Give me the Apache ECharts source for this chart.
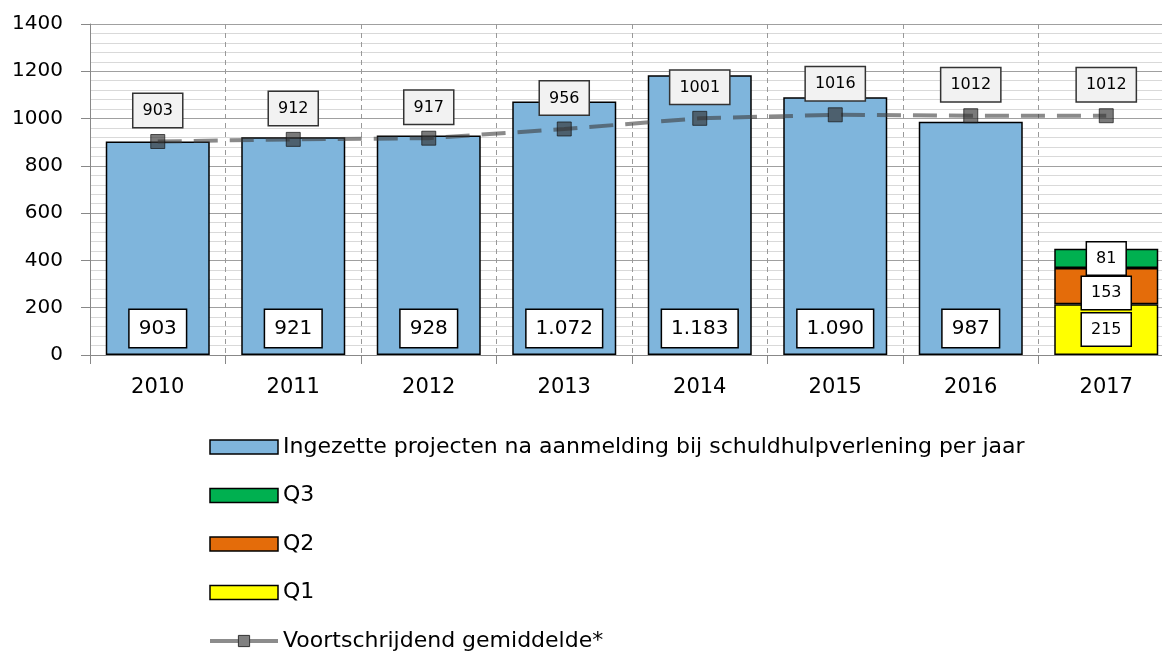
<!DOCTYPE html>
<html>
<head>
<meta charset="utf-8">
<script src="https://cdn.jsdelivr.net/npm/echarts@6/dist/echarts.min.js"></script>
<style>
  html, body { margin: 0; padding: 0; background: #fff; overflow: hidden; }
  /* wider than the window: the last category is cut at the right edge */
  #chart { width: 1180px; height: 651px; }
</style>
</head>
<body>
<div id="chart"></div>
<script>
// data
var years = ['2010', '2011', '2012', '2013', '2014', '2015', '2016', '2017']
var projecten = [903, 921, 928, 1072, 1183, 1090, 987, null]
var q1 = [null, null, null, null, null, null, null, 215]
var q2 = [null, null, null, null, null, null, null, 153]
var q3 = [null, null, null, null, null, null, null, 81]
var gemiddelde = [903, 912, 917, 956, 1001, 1016, 1012, 1012]

var font = 'DejaVu Sans'
var mainName = 'Ingezette projecten na aanmelding bij schuldhulpverlening per jaar'
var lineName = 'Voortschrijdend gemiddelde*'

function dotThousands (v) {
  return String(v).replace(/\B(?=(\d{3})+(?!\d))/g, '.')
}

var boxLabel = {
  show: true,
  color: '#000',
  fontFamily: font,
  backgroundColor: '#fff',
  borderColor: '#000',
  borderWidth: 1.5
}
var quarterLabel = Object.assign({}, boxLabel, {
  position: 'inside',
  fontSize: 16,
  padding: [8, 9, 8, 9]
})
var barLegend = { icon: 'rect', itemStyle: { borderColor: '#000', borderWidth: 1.5 } }

var myChart = echarts.init(document.getElementById('chart'))
var option = {
  animation: false,
  grid: { left: 90, right: 6, top: 24, bottom: 296 },
  legend: {
    orient: 'vertical',
    left: 203,
    top: 431,
    height: 240,
    itemWidth: 68,
    itemHeight: 14,
    itemGap: 26.5,
    textStyle: { fontFamily: font, fontSize: 22, color: '#000' },
    data: [
      Object.assign({ name: mainName }, barLegend),
      Object.assign({ name: 'Q3' }, barLegend),
      Object.assign({ name: 'Q2' }, barLegend),
      Object.assign({ name: 'Q1' }, barLegend),
      {
        name: lineName,
        lineStyle: { type: 'solid', color: '#8c8c8c', width: 4 },
        itemStyle: { color: '#808080', borderColor: '#333', borderWidth: 1 }
      }
    ]
  },
  xAxis: {
    type: 'category',
    data: years,
    axisLine: { lineStyle: { color: '#888', width: 1 } },
    axisTick: { show: true, length: 9, lineStyle: { color: '#888' } },
    axisLabel: { color: '#000', fontFamily: font, fontSize: 21, margin: 22 },
    splitLine: { show: true, lineStyle: { color: '#999', type: [5, 4] } }
  },
  yAxis: {
    type: 'value',
    min: 0,
    max: 1400,
    interval: 200,
    axisLine: { show: true, lineStyle: { color: '#888' } },
    axisTick: { show: true, length: 9, lineStyle: { color: '#888' } },
    axisLabel: {
      color: '#000',
      fontFamily: font,
      fontSize: 20,
      margin: 27,
      formatter: function (v) { return String(v) }
    },
    splitLine: { lineStyle: { color: '#a0a0a0' } },
    minorTick: { show: false, splitNumber: 5 },
    minorSplitLine: { show: true, lineStyle: { color: '#d9d9d9' } }
  },
  series: [
    {
      name: mainName,
      type: 'bar',
      stack: 'a',
      barWidth: 104,
      data: projecten,
      itemStyle: { color: '#7fb5dc', borderColor: '#000', borderWidth: 1.5 },
      label: Object.assign({}, boxLabel, {
        position: 'insideBottom',
        distance: 8,
        fontSize: 20,
        padding: [9, 9, 8, 9],
        formatter: function (p) { return dotThousands(p.value) }
      })
    },
    {
      name: 'Q1',
      type: 'bar',
      stack: 'a',
      data: q1,
      itemStyle: { color: '#ffff00', borderColor: '#000', borderWidth: 1.5 },
      label: quarterLabel
    },
    {
      name: 'Q2',
      type: 'bar',
      stack: 'a',
      data: q2,
      itemStyle: { color: '#e46c0a', borderColor: '#000', borderWidth: 1.5 },
      label: Object.assign({}, quarterLabel, { offset: [0, 7] })
    },
    {
      name: 'Q3',
      type: 'bar',
      stack: 'a',
      data: q3,
      itemStyle: { color: '#00b050', borderColor: '#000', borderWidth: 1.5 },
      label: quarterLabel
    },
    {
      name: lineName,
      type: 'line',
      data: gemiddelde,
      symbol: 'rect',
      symbolSize: 14,
      lineStyle: { color: 'rgba(60,60,60,0.6)', width: 4, type: [24, 12] },
      itemStyle: { color: 'rgba(50,50,50,0.65)', borderColor: 'rgba(20,20,20,0.7)', borderWidth: 1 },
      label: Object.assign({}, boxLabel, {
        position: 'top',
        distance: 7,
        fontSize: 16,
        backgroundColor: '#f2f2f2',
        borderColor: '#333',
        padding: [9, 9, 8, 9]
      }),
      z: 5
    }
  ]
}
myChart.setOption(option)
</script>
</body>
</html>
